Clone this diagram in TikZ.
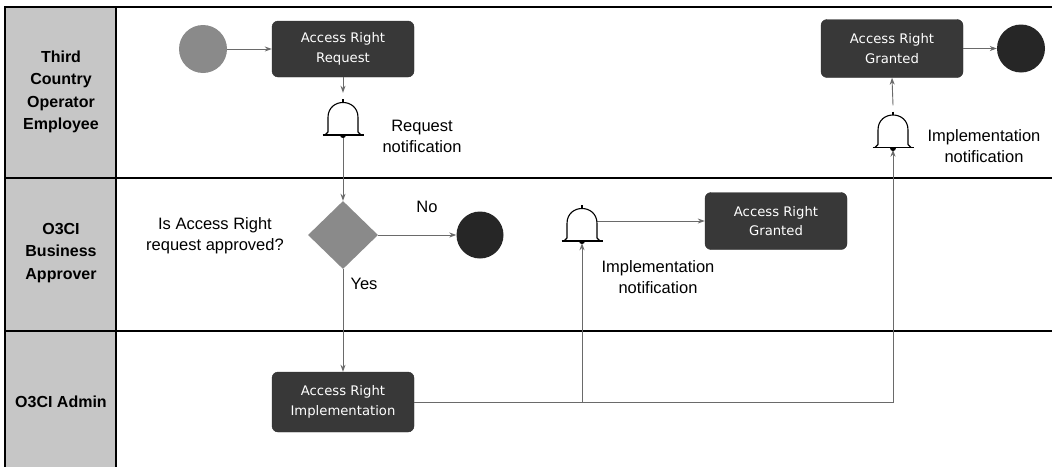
\documentclass[tikz,border=0pt]{standalone}
\usepackage{fontspec}
\setmainfont{Liberation Sans}
\newfontfamily\boxfont{DejaVu Sans}
\usetikzlibrary{shapes.geometric,arrows.meta,calc}
\definecolor{lanefill}{HTML}{C6C6C6}
\definecolor{taskfill}{HTML}{383838}
\definecolor{startfill}{HTML}{8A8A8A}
\definecolor{endfill}{HTML}{262626}
\definecolor{connc}{HTML}{6A6A6A}
\tikzset{
  laneline/.style={black,line width=1.6pt},
  lanehead/.style={font=\fontsize{16}{22.5}\selectfont\bfseries,align=center},
  task/.style={rounded corners=6pt,fill=taskfill,draw=taskfill!80!black,text=white,
    font=\boxfont\fontsize{13.2}{19.5}\selectfont,align=center,inner sep=0pt,
    minimum width=142pt,minimum height=56pt},
  startev/.style={circle,fill=startfill,minimum size=48pt,inner sep=0pt},
  endev/.style={circle,fill=endfill,minimum size=47pt,inner sep=0pt},
  gateway/.style={diamond,fill=startfill,aspect=1.03,minimum width=70pt,minimum height=68pt,inner sep=0pt},
  bellnode/.style={minimum width=30pt,minimum height=44pt,inner sep=0pt},
  lbl/.style={font=\fontsize{16.5}{21}\selectfont,align=center},
  conn/.style={connc,line width=0.9pt,-{Stealth[length=7pt,width=5pt]}},
  bellline/.style={black,line width=1.1pt,line join=round}
}
\newcommand{\drawbell}[1]{%
  \fill[white] ($(#1)+(-15,18)$) -- ($(#1)+(-15,2.5)$) .. controls ($(#1)+(-15,-17.5)$) and ($(#1)+(15,-17.5)$) .. ($(#1)+(15,2.5)$) -- ($(#1)+(15,18)$) -- cycle;
  \draw[bellline] ($(#1)+(-18,20)$) -- ($(#1)+(-15,17)$) -- ($(#1)+(-15,2.5)$) .. controls ($(#1)+(-15,-17.5)$) and ($(#1)+(15,-17.5)$) .. ($(#1)+(15,2.5)$) -- ($(#1)+(15,17)$) -- ($(#1)+(18,20)$);
  \draw[bellline] ($(#1)+(-20.5,20)$) -- ($(#1)+(20.5,20)$);
  \draw[bellline] ($(#1)+(0,-16)$) -- ($(#1)+(0,-12.5)$);
  \fill[black] ($(#1)+(-3,20)$) .. controls ($(#1)+(-3,24)$) and ($(#1)+(3,24)$) .. ($(#1)+(3,20)$) -- cycle;
}
\begin{document}
\begin{tikzpicture}[x=1pt,y=-1pt]
\useasboundingbox (0,0) rectangle (1052,466);
% lanes
\fill[lanefill] (5,7) rectangle (116,470);
\draw[laneline] (5,470) -- (5,7) -- (1052,7);
\draw[laneline] (116,7) -- (116,470);
\draw[laneline] (5,178) -- (1052,178);
\draw[laneline] (5,331) -- (1052,331);
\node[lanehead] (h1) at (61,92) {Third\\Country\\Operator\\Employee};
\node[lanehead] (h2) at (61,253) {O3CI\\Business\\Approver};
\node[lanehead] (h3) at (61,402) {O3CI Admin};
% nodes
\node[startev] (start) at (203,49) {};
\node[task] (req) at (343,49) {Access Right\\Request};
\node[bellnode] (b1) at (343,115) {};
\node[lbl] (l1) at (422,136) {Request\\notification};
\node[gateway] (dia) at (343,235) {};
\node[lbl] (q) at (215,236) {Is Access Right\\request approved?};
\node[lbl] (no) at (427,207) {No};
\node[lbl] (yes) at (364,284) {Yes};
\node[endev] (noend) at (480,235) {};
\node[task,minimum height=60pt] (impl) at (343,402) {Access Right\\Implementation};
\node[bellnode] (b2) at (582,221) {};
\node[task,minimum height=57pt] (grant2) at (776,221) {Access Right\\Granted};
\node[lbl] (l2) at (658,277) {Implementation\\notification};
\node[bellnode] (b3) at (893,127.5) {};
\node[task,minimum height=58pt] (grant1) at (892,48.5) {Access Right\\Granted};
\node[endev,minimum size=48pt] (end1) at (1021,48.5) {};
\node[lbl] (l3) at (984,146) {Implementation\\notification};
% connectors
\draw[conn] (start) -- (req);
\draw[conn] (req.south) -- (b1.north);
\draw[conn] (b1.south) -- (dia.north);
\draw[conn] (dia.east) -- (noend.west);
\draw[conn] (dia.south) -- (impl.north);
\draw[conn] (impl.east) -| (b3.south);
\draw[conn] (impl.east -| b2.south) -- (b2.south);
\draw[conn] (b2.east) -- (grant2.west);
\draw[conn] (b3.north) -- (grant1.south);
\draw[conn] (grant1.east) -- (end1.west);
% bells
\drawbell{b1}
\drawbell{b2}
\drawbell{b3}
\end{tikzpicture}
\end{document}
